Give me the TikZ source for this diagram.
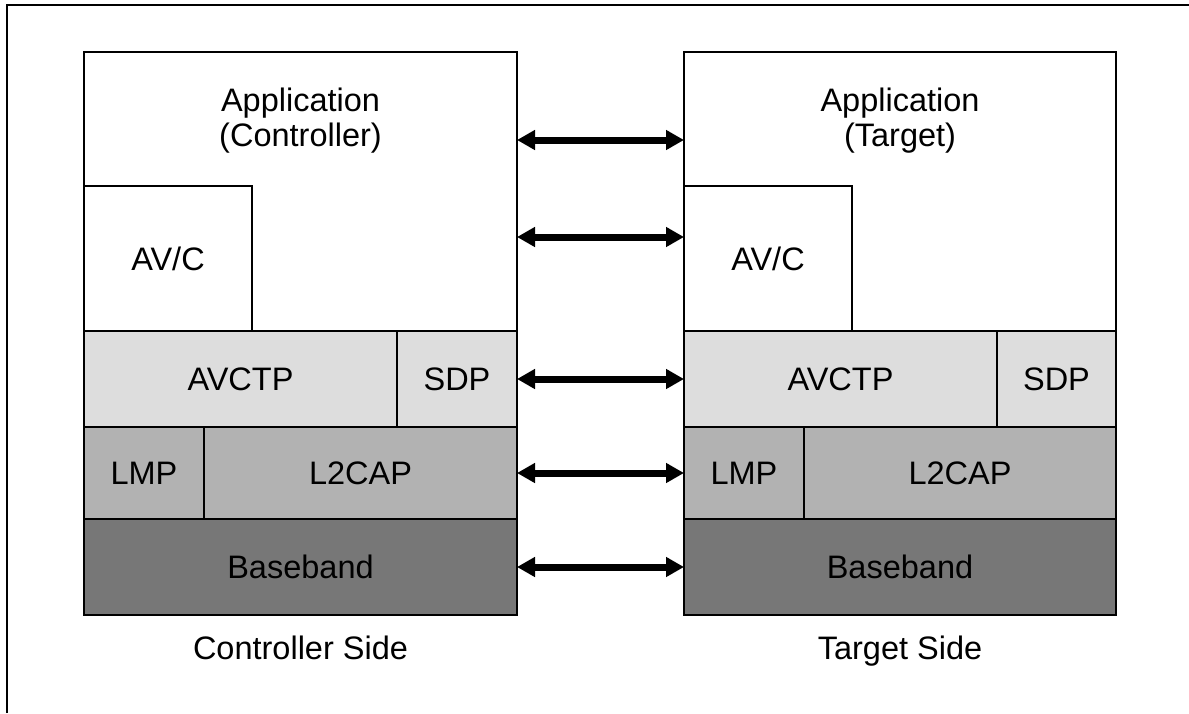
\documentclass[tikz,border=0pt]{standalone}
\usepackage{fontspec}
\setmainfont{Liberation Sans}
\usepackage{tikz}
\usetikzlibrary{positioning,arrows.meta}
\definecolor{upper}{HTML}{DDDDDD}
\definecolor{middle}{HTML}{B2B2B2}
\definecolor{lower}{HTML}{777777}
\tikzstyle{layer} = [draw,line width=1.2pt,inner sep=0pt,outer sep=0pt,font=\fontsize{32.5}{35}\selectfont]
\tikzstyle{caption} = [inner sep=0pt,align=center,font=\fontsize{32.5}{35}\selectfont]
\tikzstyle{line} = [draw,line width=7pt,{Triangle[length=18pt,width=19pt]}-{Triangle[length=18pt,width=19pt]}]

\begin{document}
\begin{tikzpicture}[x=1pt,y=-1pt,node distance=0pt]
    \useasboundingbox (0,0) rectangle (1189,713);
    \draw[line width=1.2pt] (7,713) -- (7,5) -- (1189,5);
    % controller side
    \node[layer,minimum width=433pt,minimum height=279pt,anchor=north west] (appC) at (84,52) {};
    \node[layer,minimum width=168pt,minimum height=145pt,anchor=south west] (avcC) at (appC.south west) {AV/C};
    \node[caption] (appCtext) at ([yshift=-69pt]appC.north) {Application\\(Controller)};
    \node[layer,fill=upper,minimum width=313pt,minimum height=96pt] (avctpC) [below right=of appC.south west] {AVCTP};
    \node[layer,fill=upper,minimum width=120pt,minimum height=96pt] (sdpC) [right=of avctpC] {SDP};
    \node[layer,fill=middle,minimum width=120pt,minimum height=92pt] (lmpC) [below right=of avctpC.south west] {LMP};
    \node[layer,fill=middle,minimum width=313pt,minimum height=92pt] (l2capC) [right=of lmpC] {L2CAP};
    \node[layer,fill=lower,minimum width=433pt,minimum height=96pt] (bbC) [below right=of lmpC.south west] {Baseband};
    \node[caption,anchor=base] (sideC) at ([yshift=-44pt]bbC.south) {Controller Side};
    % target side
    \node[layer,minimum width=432pt,minimum height=279pt,anchor=north west] (appT) at (684,52) {};
    \node[layer,minimum width=168pt,minimum height=145pt,anchor=south west] (avcT) at (appT.south west) {AV/C};
    \node[caption] (appTtext) at ([yshift=-69pt]appT.north) {Application\\(Target)};
    \node[layer,fill=upper,minimum width=313pt,minimum height=96pt] (avctpT) [below right=of appT.south west] {AVCTP};
    \node[layer,fill=upper,minimum width=119pt,minimum height=96pt] (sdpT) [right=of avctpT] {SDP};
    \node[layer,fill=middle,minimum width=120pt,minimum height=92pt] (lmpT) [below right=of avctpT.south west] {LMP};
    \node[layer,fill=middle,minimum width=312pt,minimum height=92pt] (l2capT) [right=of lmpT] {L2CAP};
    \node[layer,fill=lower,minimum width=432pt,minimum height=96pt] (bbT) [below right=of lmpT.south west] {Baseband};
    \node[caption,anchor=base] (sideT) at ([yshift=-44pt]bbT.south) {Target Side};
    % peer links
    \path [line] ([yshift=51.5pt]appC.east) -- ([yshift=51.5pt]appT.west);
    \path [line] ([yshift=-45.5pt]appC.east) -- ([yshift=-45.5pt]appT.west);
    \path [line] (sdpC) -- (avctpT);
    \path [line] (l2capC) -- (lmpT);
    \path [line] (bbC) -- (bbT);
\end{tikzpicture}
\end{document}
